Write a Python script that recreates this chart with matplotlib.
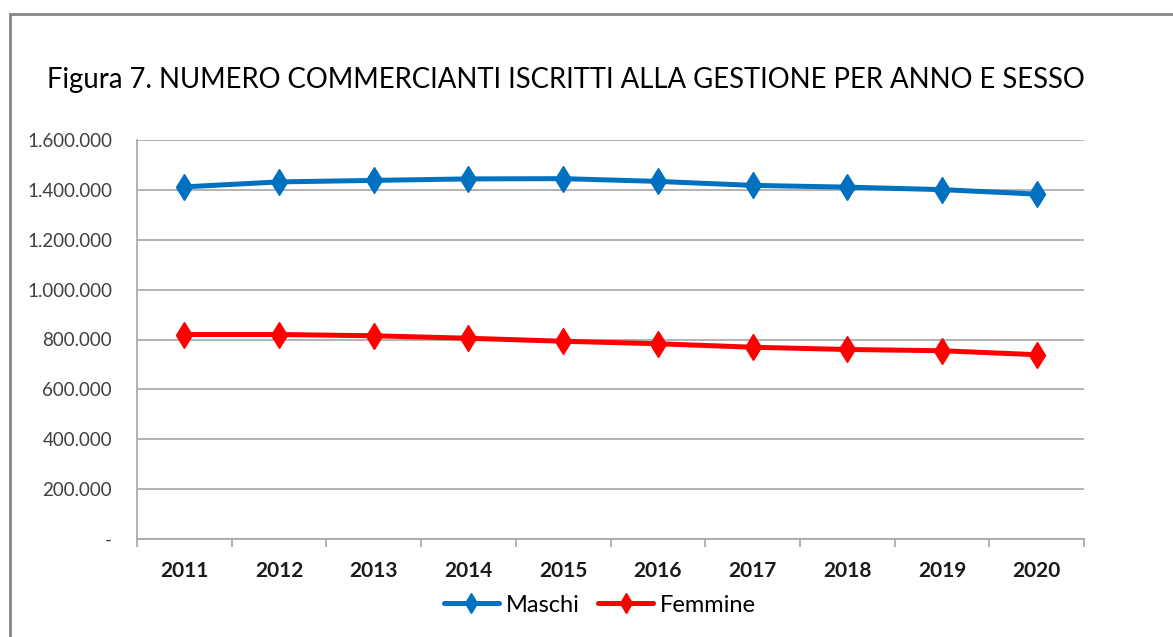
import numpy as np
import matplotlib.pyplot as plt
from matplotlib.patches import Rectangle
from matplotlib.ticker import FuncFormatter

anni = ['2011', '2012', '2013', '2014', '2015', '2016', '2017', '2018', '2019', '2020']
maschi = [1412000, 1432000, 1438000, 1444000, 1445000, 1434000, 1418000, 1411000, 1401000, 1383000]
femmine = [820000, 820000, 815000, 805000, 793000, 783000, 769000, 760000, 755000, 739000]

plt.rcParams['font.family'] = ['Lato', 'DejaVu Sans']

fig = plt.figure(figsize=(11.73, 6.37), dpi=100)
# chart frame as in the spreadsheet export
fig.patches.append(Rectangle((10 / 1173, -0.1), 1.2, (637 - 14) / 637 + 0.1,
                             transform=fig.transFigure, fill=False,
                             edgecolor='#868686', linewidth=2))

ax = fig.add_axes([137 / 1173, 98 / 637, 947 / 1173, 399 / 637])
x = np.arange(len(anni))
ax.plot(x, maschi, color='#0070C0', linewidth=3.6, marker='d',
        markersize=13, label='Maschi', solid_capstyle='round')
ax.plot(x, femmine, color='#FF0000', linewidth=3.6, marker='d',
        markersize=13, label='Femmine', solid_capstyle='round')

ax.set_xlim(-0.5, len(anni) - 0.5)
ax.set_ylim(0, 1600000)
ax.set_yticks(np.arange(0, 1600001, 200000))


def fmt(v, pos):
    if v == 0:
        return '-'
    return f'{int(v):,}'.replace(',', '.')


ax.yaxis.set_major_formatter(FuncFormatter(fmt))
ax.grid(axis='y', color='#A6A6A6', linewidth=1.2)
ax.set_axisbelow(True)

# tick marks between categories, labels in the middle
ax.set_xticks(np.arange(-0.5, len(anni), 1.0))
ax.set_xticklabels([])
ax.set_xticks(x, minor=True)
ax.set_xticklabels(anni, minor=True, fontsize=15, fontweight='bold', color='#1a1a1a')
ax.tick_params(axis='x', which='major', length=6, color='#A6A6A6', width=1.2)
ax.tick_params(axis='x', which='minor', length=0, pad=16)
ax.tick_params(axis='y', length=0, pad=18, labelsize=13.5, labelcolor='#404040')

for s in ['top', 'right']:
    ax.spines[s].set_visible(False)
for s in ['left', 'bottom']:
    ax.spines[s].set_color('#A6A6A6')
    ax.spines[s].set_linewidth(1.2)

fig.text(47 / 1173, 1 - 80 / 637, 'Figura 7. NUMERO COMMERCIANTI ISCRITTI ALLA GESTIONE PER ANNO E SESSO',
         fontsize=19.8, va='center', ha='left', color='#000000')

fig.legend(loc='center', bbox_to_anchor=(600 / 1173, 1 - 605 / 637), ncol=2,
           frameon=False, fontsize=17, handlelength=2.3, columnspacing=0.8,
           handletextpad=0.3, markerscale=0.75)

fig.savefig('out.png', dpi=100)
